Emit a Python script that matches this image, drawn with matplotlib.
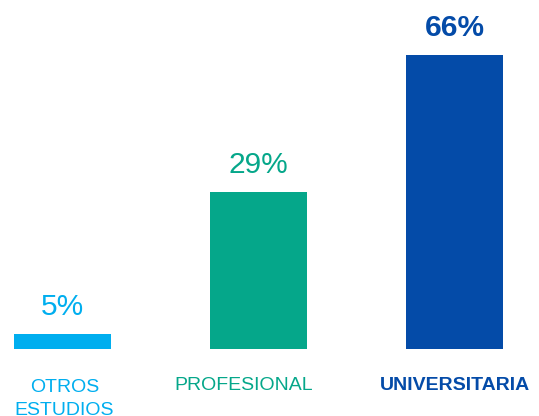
import matplotlib
matplotlib.use("Agg")
import matplotlib.pyplot as plt

categories = ["OTROS\nESTUDIOS", "PROFESIONAL", "UNIVERSITARIA"]
value_labels = ["5%", "29%", "66%"]
bar_heights = [3.4, 35.3, 66]
colors = ["#00AEEF", "#05A78A", "#044BA8"]
label_weights = ["normal", "normal", "bold"]
cat_weights = ["normal", "normal", "bold"]
cat_x_shift = [0.01, -0.077, 0.003]

fig = plt.figure(figsize=(5.39, 4.16), dpi=100)
ax = fig.add_axes([0, 0, 1, 1])
x = list(range(len(categories)))
bars = ax.bar(x, bar_heights, width=0.495, color=colors)
ax.set_xlim(-0.319, 2.431)
ax.set_ylim(-15.04, 78.35)
ax.axis("off")

fam = ["Liberation Sans", "DejaVu Sans"]
for i, b in enumerate(bars):
    ax.annotate(value_labels[i], (b.get_x() + b.get_width() / 2, b.get_height()),
                xytext=(0, 13.7), textcoords="offset points", ha="center",
                va="baseline", fontsize=21.5, color=colors[i],
                fontweight=label_weights[i], family=fam)
    nlines = categories[i].count("\n")
    base_px = 390 + 25 * nlines
    ax.text(x[i] + cat_x_shift[i], 1 - base_px / 416, categories[i],
            transform=ax.get_xaxis_transform(), ha="center", va="baseline",
            fontsize=14, color=colors[i], fontweight=cat_weights[i],
            family=fam, linespacing=1.44)

fig.savefig("out.png", dpi=100)
